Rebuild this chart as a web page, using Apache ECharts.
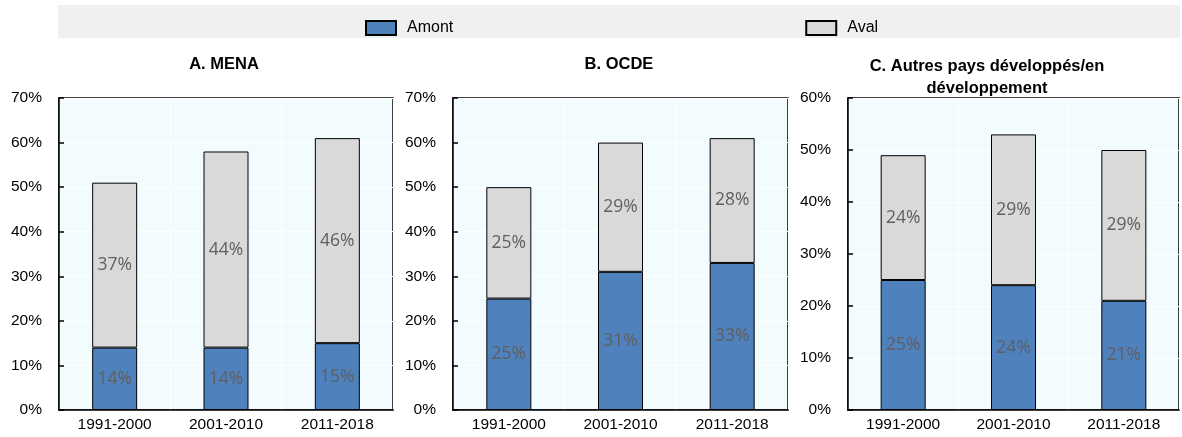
<!DOCTYPE html>
<html>
<head>
<meta charset="utf-8">
<script src="https://cdn.jsdelivr.net/npm/echarts@6/dist/echarts.min.js"></script>
<style>
  html, body { margin: 0; padding: 0; background: #fff; }
  #chart { width: 1182px; height: 437px; }
</style>
</head>
<body>
<div id="chart"></div>
<script>
// Périodes
const periods = ['1991-2000', '2001-2010', '2011-2018'];

// A. MENA
const menaAmont = [14, 14, 15];
const menaAval = [37, 44, 46];

// B. OCDE
const ocdeAmont = [25, 31, 33];
const ocdeAval = [25, 29, 28];

// C. Autres pays développés/en développement
const autresAmont = [25, 24, 21];
const autresAval = [24, 29, 29];

const panelTitles = ['A. MENA', 'B. OCDE', 'C. Autres pays développés/en\ndéveloppement'];
const axisMax = [70, 70, 60];

const AXIS_FONT = '"Liberation Sans", Arial, sans-serif';
const LABEL_FONT = '"Open Sans", "Noto Sans", sans-serif';
const BLUE = '#4F81BD';
const GREY = '#D9D9D9';

const grids = [
  { left: 59, top: 98, width: 334, height: 312 },
  { left: 453, top: 98, width: 335, height: 312 },
  { left: 848, top: 98, width: 331, height: 312 }
].map(g => Object.assign(g, {
  show: true,
  backgroundColor: '#F2FCFF',
  borderColor: '#000',
  borderWidth: 1.5,
  containLabel: false
}));

const xAxes = grids.map((g, i) => ({
  type: 'category',
  gridIndex: i,
  data: periods,
  axisLine: { lineStyle: { color: '#000', width: 1.5 } },
  axisTick: { inside: true, length: 5, lineStyle: { color: '#000', width: 1.5 } },
  axisLabel: { color: '#000', fontFamily: AXIS_FONT, fontSize: 15.5, margin: 7 },
  splitLine: { show: true, lineStyle: { color: '#fff', width: 1 } }
}));

const yAxes = grids.map((g, i) => ({
  type: 'value',
  gridIndex: i,
  min: 0,
  max: axisMax[i],
  interval: 10,
  axisLine: { show: true, lineStyle: { color: '#000', width: 1.5 } },
  axisTick: { show: true, inside: true, length: 5, lineStyle: { color: '#000', width: 1.5 } },
  axisLabel: { color: '#000', fontFamily: AXIS_FONT, fontSize: 15.5, margin: 17, formatter: '{value}%' },
  splitLine: { show: true, lineStyle: { color: '#fff', width: 1 } }
}));

const label = {
  show: true,
  position: 'inside',
  formatter: '{c}%',
  color: '#5F5F5F',
  fontFamily: LABEL_FONT,
  fontSize: 17.5
};

function barSeries(name, data, i, color) {
  return {
    name: name,
    type: 'bar',
    stack: 'panel' + i,
    xAxisIndex: i,
    yAxisIndex: i,
    barWidth: 45,
    data: data,
    itemStyle: { color: color, borderColor: '#000', borderWidth: 1 },
    label: label
  };
}

const series = [
  barSeries('Amont', menaAmont, 0, BLUE),
  barSeries('Aval', menaAval, 0, GREY),
  barSeries('Amont', ocdeAmont, 1, BLUE),
  barSeries('Aval', ocdeAval, 1, GREY),
  barSeries('Amont', autresAmont, 2, BLUE),
  barSeries('Aval', autresAval, 2, GREY)
];

const titleCenters = [219, 614, 982];
const titleTops = [48, 48, 50];
const titles = panelTitles.map((t, i) => ({
  text: t,
  left: titleCenters[i],
  top: titleTops[i],
  textAlign: 'center',
  textStyle: { fontFamily: AXIS_FONT, fontSize: 16.5, fontWeight: 'bold', color: '#000', lineHeight: 22 }
}));

const chart = echarts.init(document.getElementById('chart'), null, { renderer: 'canvas' });
chart.setOption({
  animation: false,
  backgroundColor: '#fff',
  title: titles,
  graphic: [{
    type: 'rect',
    z: -10,
    shape: { x: 58, y: 5, width: 1122, height: 33 },
    style: { fill: '#F0F0F0' },
    silent: true
  }],
  legend: {
    data: [{ name: 'Amont', icon: 'rect' }, { name: 'Aval', icon: 'rect' }],
    left: 360,
    top: 15,
    itemWidth: 30,
    itemHeight: 14,
    itemGap: 352,
    selectedMode: false,
    textStyle: { fontFamily: AXIS_FONT, fontSize: 16, color: '#000', padding: [0, 0, 0, 6] }
  },
  grid: grids,
  xAxis: xAxes,
  yAxis: yAxes,
  series: series
});
</script>
</body>
</html>
